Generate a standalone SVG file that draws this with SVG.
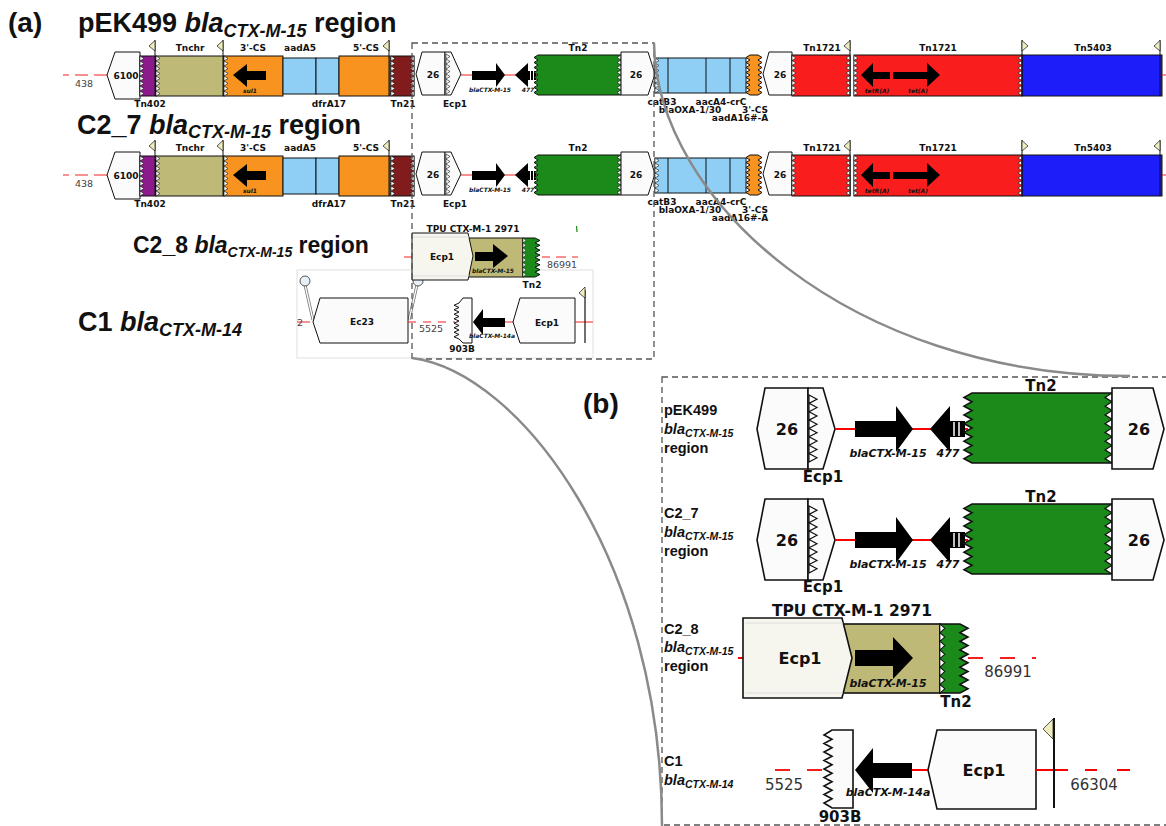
<svg xmlns="http://www.w3.org/2000/svg" xmlns:xlink="http://www.w3.org/1999/xlink" width="1166" height="826" viewBox="0 0 1166 826">
<style>
.k{stroke:#111;stroke-width:1}
.kb{stroke:#111;stroke-width:1.6}
.wh{fill:#fbfbfb}
.wz{fill:#fff;stroke:#111;stroke-width:0.6}
.wzb{fill:#fff;stroke:#111;stroke-width:1.2}
.lb{font-family:"DejaVu Sans",Verdana,sans-serif;font-weight:bold;font-size:9px;text-anchor:middle;fill:#111}
.gi{font-family:"DejaVu Sans",Verdana,sans-serif;font-weight:bold;font-style:italic;font-size:6px;text-anchor:middle;fill:#111}
.nm{font-family:"DejaVu Sans",Verdana,sans-serif;font-size:9.5px;text-anchor:middle;fill:#444}
.lbB{font-family:"DejaVu Sans",Verdana,sans-serif;font-weight:bold;font-size:15px;text-anchor:middle;fill:#111}
.big{font-size:16px}
.giB{font-family:"DejaVu Sans",Verdana,sans-serif;font-weight:bold;font-style:italic;font-size:11px;text-anchor:middle;fill:#111}
.nmB{font-family:"DejaVu Sans",Verdana,sans-serif;font-size:15px;text-anchor:middle;fill:#333}
.ttl{font-family:"Liberation Sans",Arial,sans-serif;font-weight:bold;font-size:27px;fill:#111}
.rl{font-family:"Liberation Sans",Arial,sans-serif;font-weight:bold;font-size:14.5px;fill:#111}
.it{font-style:italic}
.rline{stroke:#f42020;stroke-width:1;fill:none}
.rdash{stroke:#f42020;stroke-width:1;stroke-dasharray:13 6;fill:none}
.rlineB{stroke:#f00;stroke-width:2;fill:none}
.rdashB{stroke:#f42020;stroke-width:2;stroke-dasharray:15 17;fill:none}
.fl{stroke:#111;stroke-width:1}
.ft{fill:#efedbd;stroke:#111;stroke-width:0.7}
.olive{fill:#bfb978}
.orange{fill:#f7931e}
.lblue{fill:#8fcff5}
.green{fill:#1b8a1b}
.red{fill:#f91d1d}
.blue{fill:#1d1df9}
.curve{fill:none;stroke:#8a8a8a;stroke-width:2.5}
.dbox{fill:none;stroke:#555;stroke-width:1.3;stroke-dasharray:6 4}
</style>
<defs>
<path id="zz40" d="M0,0l4,2.5-4,2.5 4,2.5-4,2.5 4,2.5-4,2.5 4,2.5-4,2.5 4,2.5-4,2.5 4,2.5-4,2.5 4,2.5-4,2.5 4,2.5-4,2.5z"/>
<path id="zz35" d="M0,0l4,2.5-4,2.5 4,2.5-4,2.5 4,2.5-4,2.5 4,2.5-4,2.5 4,2.5-4,2.5 4,2.5-4,2.5 4,2.5-4,2.5z"/>
<path id="zzB" d="M0,0l8,4.375-8,4.375 8,4.375-8,4.375 8,4.375-8,4.375 8,4.375-8,4.375 8,4.375-8,4.375 8,4.375-8,4.375 8,4.375-8,4.375 8,4.375-8,4.375z"/>
<g id="flagL"><line x1="0" y1="0" x2="0" y2="56" class="fl"/><polygon points="-6,6 0,0.5 0,11" class="ft"/></g>
<g id="flagR"><line x1="0" y1="0" x2="0" y2="56" class="fl"/><polygon points="6,6 0,0.5 0,11" class="ft"/></g>
</defs>
<rect x="0" y="0" width="1166" height="826" fill="#fff"/>

<!-- panel labels and titles -->
<text x="8" y="32" font-family="Liberation Sans, Arial, sans-serif" font-weight="bold" font-size="28" fill="#111">(a)</text>
<text x="583" y="413" font-family="Liberation Sans, Arial, sans-serif" font-weight="bold" font-size="28" fill="#111">(b)</text>
<text class="ttl" x="78" y="32">pEK499 <tspan class="it">bla</tspan><tspan class="it" style="font-size:18px" dy="5">CTX-M-15</tspan><tspan dy="-5"> region</tspan></text>
<text class="ttl" x="77" y="134">C2_7 <tspan class="it">bla</tspan><tspan class="it" style="font-size:18px" dy="4">CTX-M-15</tspan><tspan dy="-4"> region</tspan></text>
<text class="ttl" x="133" y="253" style="font-size:23px">C2_8 <tspan class="it">bla</tspan><tspan class="it" style="font-size:14px" dy="4">CTX-M-15</tspan><tspan dy="-4"> region</tspan></text>
<text class="ttl" x="78" y="331">C1 <tspan class="it">bla</tspan><tspan class="it" style="font-size:18px" dy="5">CTX-M-14</tspan></text>

<!-- ROW 1 pEK499 -->
<g id="a-pEK499">
 <line class="rdash" x1="107" y1="75" x2="63" y2="75"/>
 <text class="nm" x="84" y="87">438</text>
 <g id="p1-6100"><polygon class="wh k" points="107,75 115,52 140,52 140,99 115,99"/><text class="lb" x="126" y="79">6100</text></g>
 <g id="p1-Tn402"><rect class="k" fill="#8b1a8b" x="140" y="56" width="16" height="40"/><use href="#zz40" class="wz" x="140" y="56"/><text class="lb" x="150" y="107">Tn402</text></g>
 <g id="p1-Tnchr"><rect class="k olive" x="156" y="56" width="68" height="40"/><use href="#zz40" class="wz" x="156" y="56"/><use href="#flagL" x="155" y="40"/><text class="lb" x="190" y="51">Tnchr</text></g>
 <g id="p1-3CS"><rect class="k orange" x="224" y="56" width="59" height="40"/><use href="#zz40" class="wz" x="224" y="56"/><use href="#flagL" x="223" y="40"/><polygon points="233,75 247,64 247,71 266,71 266,80 247,80 247,87" fill="#000"/><text class="gi" x="250" y="93">sul1</text><text class="lb" x="253" y="51">3'-CS</text></g>
 <g id="p1-aadA5"><rect class="k lblue" x="283" y="58" width="33" height="36"/><text class="lb" x="300" y="51">aadA5</text></g>
 <g id="p1-dfrA17"><rect class="k lblue" x="316" y="58" width="23" height="36"/><text class="lb" x="329" y="107">dfrA17</text></g>
 <g id="p1-5CS"><rect class="k orange" x="339" y="56" width="51" height="40"/><use href="#flagL" x="389" y="40"/><text class="lb" x="366" y="51">5'-CS</text></g>
 <g id="p1-Tn21"><rect class="k" fill="#821c1c" x="391" y="56" width="23" height="40"/><use href="#zz40" class="wz" x="391" y="56"/><use href="#zz40" class="wz" transform="translate(414,56) scale(-1,1)"/><text class="lb" x="403" y="107">Tn21</text></g>
 <g id="p1-26a"><polygon class="wh k" points="416,74 422,52 445,52 445,95 422,95"/><text class="lb" x="433" y="78">26</text></g>
 <g id="p1-Ecp1"><polygon class="wh k" points="445,52 451,52 461,74 451,95 445,95"/><use href="#zz40" class="wz" x="446" y="54"/><text class="lb" x="455" y="107">Ecp1</text></g>
 <line class="rline" x1="461" y1="75" x2="538" y2="75"/>
 <g id="p1-bla"><polygon points="472,71 496,71 496,63 505,75 496,87 496,80 472,80" fill="#000"/><text class="gi" x="490" y="92">blaCTX-M-15</text></g>
 <g id="p1-477"><polygon points="515,75 528,63 528,71 536,71 536,80 528,80 528,87" fill="#000"/><path d="M530.5,71V80M533.5,71V80" stroke="#fff" stroke-width="1"/><text class="gi" x="528" y="92">477</text></g>
 <g id="p1-Tn2"><path class="k green" d="M538,55H621V95H538l-4,-2.5 4,-2.5 -4,-2.5 4,-2.5 -4,-2.5 4,-2.5 -4,-2.5 4,-2.5 -4,-2.5 4,-2.5 -4,-2.5 4,-2.5 -4,-2.5 4,-2.5 -4,-2.5 4,-2.5z"/><use href="#zz40" class="wz" transform="translate(621,55) scale(-1,1)"/><text class="lb" x="578" y="51">Tn2</text></g>
 <g id="p1-26b"><polygon class="wh k" points="621,52 648,52 655,74 648,95 621,95"/><text class="lb" x="636" y="78">26</text></g>
 <g id="p1-cass"><rect class="k lblue" x="655" y="58" width="91" height="35"/><path class="k" d="M668,58V93M706,58V93M730,58V93"/><use href="#zz35" class="wz" x="655" y="58"/><text class="lb" x="662" y="105">catB3</text><text class="lb" x="690" y="113">blaOXA-1/30</text><text class="lb" x="721" y="105">aacA4-crC</text><text class="lb" x="740" y="121">aadA16#-A</text></g>
 <g id="p1-3CSb"><path class="k orange" d="M750,55H758l4,2.5-4,2.5 4,2.5-4,2.5 4,2.5-4,2.5 4,2.5-4,2.5 4,2.5-4,2.5 4,2.5-4,2.5 4,2.5-4,2.5 4,2.5-4,2.5H750l-4,-2.5 4,-2.5 -4,-2.5 4,-2.5 -4,-2.5 4,-2.5 -4,-2.5 4,-2.5 -4,-2.5 4,-2.5 -4,-2.5 4,-2.5 -4,-2.5 4,-2.5 -4,-2.5 4,-2.5z"/><text class="lb" x="755" y="113">3'-CS</text></g>
 <g id="p1-26c"><polygon class="wh k" points="763,74 769,52 792,52 792,95 769,95"/><text class="lb" x="780" y="78">26</text></g>
 <g id="p1-Tn1721a"><rect class="k red" x="792" y="55" width="58" height="41"/><use href="#zz40" class="wz" x="792" y="55.5"/><use href="#zz40" class="wz" transform="translate(850,55.5) scale(-1,1)"/><text class="lb" x="822" y="51">Tn1721</text></g>
 <g id="p1-Tn1721b"><rect class="k red" x="854" y="55" width="168" height="41"/><use href="#zz40" class="wz" x="854" y="55.5"/><use href="#zz40" class="wz" transform="translate(1022,55.5) scale(-1,1)"/><polygon points="861,75 873,63 873,72 890,72 890,79 873,79 873,87" fill="#000"/><polygon points="893,72 927,72 927,63 940,75 927,87 927,79 893,79" fill="#000"/><text class="gi" x="877" y="93">tetR(A)</text><text class="gi" x="918" y="93">tet(A)</text><text class="lb" x="938" y="51">Tn1721</text></g>
 <g id="p1-Tn5403"><rect class="k blue" x="1022" y="55" width="140" height="41"/><use href="#flagL" x="850" y="40"/><use href="#flagR" x="1022" y="40"/><use href="#flagL" x="1160" y="40"/><text class="lb" x="1093" y="51">Tn5403</text></g>
 <line class="rline" x1="1162" y1="75" x2="1166" y2="75"/>
</g>

<!-- ROW 2 C2_7 -->
<g id="a-C2_7" transform="translate(0,100)">
 <line class="rdash" x1="107" y1="75" x2="63" y2="75"/>
 <text class="nm" x="84" y="87">438</text>
 <g id="p2-6100"><polygon class="wh k" points="107,75 115,52 140,52 140,99 115,99"/><text class="lb" x="126" y="79">6100</text></g>
 <g id="p2-Tn402"><rect class="k" fill="#8b1a8b" x="140" y="56" width="16" height="40"/><use href="#zz40" class="wz" x="140" y="56"/><text class="lb" x="150" y="107">Tn402</text></g>
 <g id="p2-Tnchr"><rect class="k olive" x="156" y="56" width="68" height="40"/><use href="#zz40" class="wz" x="156" y="56"/><use href="#flagL" x="155" y="40"/><text class="lb" x="190" y="51">Tnchr</text></g>
 <g id="p2-3CS"><rect class="k orange" x="224" y="56" width="59" height="40"/><use href="#zz40" class="wz" x="224" y="56"/><use href="#flagL" x="223" y="40"/><polygon points="233,75 247,64 247,71 266,71 266,80 247,80 247,87" fill="#000"/><text class="gi" x="250" y="93">sul1</text><text class="lb" x="253" y="51">3'-CS</text></g>
 <g id="p2-aadA5"><rect class="k lblue" x="283" y="58" width="33" height="36"/><text class="lb" x="300" y="51">aadA5</text></g>
 <g id="p2-dfrA17"><rect class="k lblue" x="316" y="58" width="23" height="36"/><text class="lb" x="329" y="107">dfrA17</text></g>
 <g id="p2-5CS"><rect class="k orange" x="339" y="56" width="51" height="40"/><use href="#flagL" x="389" y="40"/><text class="lb" x="366" y="51">5'-CS</text></g>
 <g id="p2-Tn21"><rect class="k" fill="#821c1c" x="391" y="56" width="23" height="40"/><use href="#zz40" class="wz" x="391" y="56"/><use href="#zz40" class="wz" transform="translate(414,56) scale(-1,1)"/><text class="lb" x="403" y="107">Tn21</text></g>
 <g id="p2-26a"><polygon class="wh k" points="416,74 422,52 445,52 445,95 422,95"/><text class="lb" x="433" y="78">26</text></g>
 <g id="p2-Ecp1"><polygon class="wh k" points="445,52 451,52 461,74 451,95 445,95"/><use href="#zz40" class="wz" x="446" y="54"/><text class="lb" x="455" y="107">Ecp1</text></g>
 <line class="rline" x1="461" y1="75" x2="538" y2="75"/>
 <g id="p2-bla"><polygon points="472,71 496,71 496,63 505,75 496,87 496,80 472,80" fill="#000"/><text class="gi" x="490" y="92">blaCTX-M-15</text></g>
 <g id="p2-477"><polygon points="515,75 528,63 528,71 536,71 536,80 528,80 528,87" fill="#000"/><path d="M530.5,71V80M533.5,71V80" stroke="#fff" stroke-width="1"/><text class="gi" x="528" y="92">477</text></g>
 <g id="p2-Tn2"><path class="k green" d="M538,55H621V95H538l-4,-2.5 4,-2.5 -4,-2.5 4,-2.5 -4,-2.5 4,-2.5 -4,-2.5 4,-2.5 -4,-2.5 4,-2.5 -4,-2.5 4,-2.5 -4,-2.5 4,-2.5 -4,-2.5 4,-2.5z"/><use href="#zz40" class="wz" transform="translate(621,55) scale(-1,1)"/><text class="lb" x="578" y="51">Tn2</text></g>
 <g id="p2-26b"><polygon class="wh k" points="621,52 648,52 655,74 648,95 621,95"/><text class="lb" x="636" y="78">26</text></g>
 <g id="p2-cass"><rect class="k lblue" x="655" y="58" width="91" height="35"/><path class="k" d="M668,58V93M706,58V93M730,58V93"/><use href="#zz35" class="wz" x="655" y="58"/><text class="lb" x="662" y="105">catB3</text><text class="lb" x="690" y="113">blaOXA-1/30</text><text class="lb" x="721" y="105">aacA4-crC</text><text class="lb" x="740" y="121">aadA16#-A</text></g>
 <g id="p2-3CSb"><path class="k orange" d="M750,55H758l4,2.5-4,2.5 4,2.5-4,2.5 4,2.5-4,2.5 4,2.5-4,2.5 4,2.5-4,2.5 4,2.5-4,2.5 4,2.5-4,2.5 4,2.5-4,2.5H750l-4,-2.5 4,-2.5 -4,-2.5 4,-2.5 -4,-2.5 4,-2.5 -4,-2.5 4,-2.5 -4,-2.5 4,-2.5 -4,-2.5 4,-2.5 -4,-2.5 4,-2.5 -4,-2.5 4,-2.5z"/><text class="lb" x="755" y="113">3'-CS</text></g>
 <g id="p2-26c"><polygon class="wh k" points="763,74 769,52 792,52 792,95 769,95"/><text class="lb" x="780" y="78">26</text></g>
 <g id="p2-Tn1721a"><rect class="k red" x="792" y="55" width="58" height="41"/><use href="#zz40" class="wz" x="792" y="55.5"/><use href="#zz40" class="wz" transform="translate(850,55.5) scale(-1,1)"/><text class="lb" x="822" y="51">Tn1721</text></g>
 <g id="p2-Tn1721b"><rect class="k red" x="854" y="55" width="168" height="41"/><use href="#zz40" class="wz" x="854" y="55.5"/><use href="#zz40" class="wz" transform="translate(1022,55.5) scale(-1,1)"/><polygon points="861,75 873,63 873,72 890,72 890,79 873,79 873,87" fill="#000"/><polygon points="893,72 927,72 927,63 940,75 927,87 927,79 893,79" fill="#000"/><text class="gi" x="877" y="93">tetR(A)</text><text class="gi" x="918" y="93">tet(A)</text><text class="lb" x="938" y="51">Tn1721</text></g>
 <g id="p2-Tn5403"><rect class="k blue" x="1022" y="55" width="140" height="41"/><use href="#flagL" x="850" y="40"/><use href="#flagR" x="1022" y="40"/><use href="#flagL" x="1160" y="40"/><text class="lb" x="1093" y="51">Tn5403</text></g>
 <line class="rline" x1="1162" y1="75" x2="1166" y2="75"/>
</g>

<!-- ROW 4 C1 (panel a) -->
<g id="a-C1">
 <rect x="297" y="270" width="296" height="88" fill="#fff" stroke="#e0e0e0" stroke-width="1"/>
 <line class="rdash" x1="297" y1="322" x2="315" y2="322" stroke-dasharray="4 4"/>
 <text class="nm" x="300" y="326">2</text>
 <g id="c1-lollipop1"><line x1="305" y1="285" x2="313" y2="320" stroke="#777" stroke-width="3"/><line x1="305" y1="285" x2="313" y2="320" stroke="#fff" stroke-width="1.3"/><circle cx="305" cy="281" r="5" fill="#e9f1f8" stroke="#555" stroke-width="1"/></g>
 <g id="c1-lollipop2"><line x1="417" y1="285" x2="409" y2="320" stroke="#777" stroke-width="3"/><line x1="417" y1="285" x2="409" y2="320" stroke="#fff" stroke-width="1.3"/><circle cx="418" cy="281" r="5" fill="#e9f1f8" stroke="#555" stroke-width="1"/></g>
 <g id="c1-Ec23"><polygon class="wh k" points="313,322 320,298 408,298 408,343 320,343"/><text class="lb" x="362" y="325">Ec23</text></g>
 <line class="rline" x1="408" y1="322" x2="455" y2="322" stroke-dasharray="8 7"/>
 <text class="nm" x="431" y="332">5525</text>
 <g id="c1-903B"><polygon class="wh k" points="463,298 472,298 472,343 463,343 459,339 454,336.75 459,334.5 454,332.25 459,330 454,327.75 459,325.5 454,323.25 459,321 454,318.75 459,316.5 454,314.25 459,312 454,309.75 459,307.5 454,305.25 459,303"/><text class="lb" x="462" y="352">903B</text></g>
 <g id="c1-bla"><polygon points="473,322 483,309 483,318 505,318 505,327 483,327 483,335" fill="#000"/><text class="gi" x="492" y="338">blaCTX-M-14a</text></g>
 <line class="rline" x1="505" y1="322" x2="514" y2="322"/>
 <g id="c1-Ecp1"><polygon class="wh k" points="513,322 520,298 575,298 575,343 520,343"/><text class="lb" x="547" y="326">Ecp1</text></g>
 <line class="rline" x1="575" y1="322" x2="593" y2="322"/>
 <g id="c1-flag"><line x1="585" y1="290" x2="585" y2="343" stroke="#111" stroke-width="1.2"/><polygon points="579,293 585,287 585,298" class="ft"/></g>
</g>

<!-- ROW 3 C2_8 (panel a) -->
<g id="a-C2_8">
 <line class="rline" x1="404" y1="257" x2="412" y2="257"/>
 <g id="c8-olive"><rect class="k olive" x="465" y="238" width="58" height="39"/><polygon points="475,252 493,252 493,244 508,256 493,268 493,261 475,261" fill="#000"/><text class="gi" x="493" y="273">blaCTX-M-15</text></g>
 <g id="c8-Ecp1"><polygon class="k" fill="#f6f5ee" points="412,233 468,233 473,256 468,280 412,280"/><path d="M413,237H469M413,276H469" stroke="#ddd" stroke-width="1"/><text class="lb" x="442" y="260">Ecp1</text></g>
 <g id="c8-Tn2"><path class="k green" d="M523,238H535l5,2.4375-5,2.4375 5,2.4375-5,2.4375 5,2.4375-5,2.4375 5,2.4375-5,2.4375 5,2.4375-5,2.4375 5,2.4375-5,2.4375 5,2.4375-5,2.4375 5,2.4375-5,2.4375H523z"/><use href="#zz40" class="wz" transform="translate(523,238) scale(0.75,0.975)"/><text class="lb" x="532" y="288">Tn2</text></g>
 <line class="rline" x1="542" y1="257" x2="578" y2="257" stroke-dasharray="8 6 10 6"/>
 <text class="nm" x="562" y="268">86991</text>
 <text class="lb" x="473" y="232">TPU CTX-M-1 2971</text>
 <path d="M576.5,226L577,232" stroke="#1b8a1b" stroke-width="1.2"/>
</g>

<!-- PANEL B -->
<g id="b-pEK499">
 <text class="rl" x="664" y="415">pEK499</text>
 <text class="rl" x="664" y="434"><tspan class="it">bla</tspan><tspan class="it" style="font-size:10.5px" dy="3">CTX-M-15</tspan></text>
 <text class="rl" x="664" y="453">region</text>
 <g id="b1-26a"><polygon class="wh kb" points="765,388 808,388 808,469 765,469 757,429"/><text class="lbB big" x="787" y="435">26</text></g>
 <g id="b1-Ecp1"><polygon class="wh kb" points="808,388 823,388 835,429 823,469 808,469"/><use href="#zzB" class="wzb" transform="translate(809,395) scale(1,0.957)"/><text class="lbB" x="823" y="482">Ecp1</text></g>
 <line class="rlineB" x1="835" y1="429" x2="968" y2="429"/>
 <g id="b1-bla"><polygon points="855,421 896,421 896,406 913,429 896,452 896,437 855,437" fill="#000"/><text class="giB" x="888" y="457">blaCTX-M-15</text></g>
 <g id="b1-477"><polygon points="930,429 950,406 950,421 965,421 965,437 950,437 950,452" fill="#000"/><path d="M954,422V436M959,422V436" stroke="#fff" stroke-width="1.5"/><text class="giB" x="948" y="457">477</text></g>
 <g id="b1-Tn2"><path class="kb green" d="M972,393H1112V463H972l-8,-4.375 8,-4.375 -8,-4.375 8,-4.375 -8,-4.375 8,-4.375 -8,-4.375 8,-4.375 -8,-4.375 8,-4.375 -8,-4.375 8,-4.375 -8,-4.375 8,-4.375 -8,-4.375 8,-4.375z"/><use href="#zzB" class="wzb" transform="translate(1112,393) scale(-0.875,1)"/><text class="lbB" x="1041" y="391">Tn2</text></g>
 <g id="b1-26b"><polygon class="wh kb" points="1112,388 1153,388 1164,429 1153,469 1112,469"/><text class="lbB big" x="1139" y="435">26</text></g>
</g>

<g id="b-C2_7">
 <text class="rl" x="664" y="518">C2_7</text>
 <text class="rl" x="664" y="537"><tspan class="it">bla</tspan><tspan class="it" style="font-size:10.5px" dy="3">CTX-M-15</tspan></text>
 <text class="rl" x="664" y="556">region</text>
 <g transform="translate(0,111)">
 <g id="b2-26a"><polygon class="wh kb" points="765,388 808,388 808,469 765,469 757,429"/><text class="lbB big" x="787" y="435">26</text></g>
 <g id="b2-Ecp1"><polygon class="wh kb" points="808,388 823,388 835,429 823,469 808,469"/><use href="#zzB" class="wzb" transform="translate(809,395) scale(1,0.957)"/><text class="lbB" x="823" y="481">Ecp1</text></g>
 <line class="rlineB" x1="835" y1="429" x2="968" y2="429"/>
 <g id="b2-bla"><polygon points="855,421 896,421 896,406 913,429 896,452 896,437 855,437" fill="#000"/><text class="giB" x="888" y="457">blaCTX-M-15</text></g>
 <g id="b2-477"><polygon points="930,429 950,406 950,421 965,421 965,437 950,437 950,452" fill="#000"/><path d="M954,422V436M959,422V436" stroke="#fff" stroke-width="1.5"/><text class="giB" x="948" y="457">477</text></g>
 <g id="b2-Tn2"><path class="kb green" d="M972,393H1112V463H972l-8,-4.375 8,-4.375 -8,-4.375 8,-4.375 -8,-4.375 8,-4.375 -8,-4.375 8,-4.375 -8,-4.375 8,-4.375 -8,-4.375 8,-4.375 -8,-4.375 8,-4.375 -8,-4.375 8,-4.375z"/><use href="#zzB" class="wzb" transform="translate(1112,393) scale(-0.875,1)"/><text class="lbB" x="1041" y="391">Tn2</text></g>
 <g id="b2-26b"><polygon class="wh kb" points="1112,388 1153,388 1164,429 1153,469 1112,469"/><text class="lbB big" x="1139" y="435">26</text></g>
 </g>
</g>

<g id="b-C2_8">
 <text class="rl" x="664" y="634">C2_8</text>
 <text class="rl" x="664" y="652"><tspan class="it">bla</tspan><tspan class="it" style="font-size:10.5px" dy="3">CTX-M-15</tspan></text>
 <text class="rl" x="664" y="671">region</text>
 <line class="rlineB" x1="738" y1="658" x2="744" y2="658"/>
 <g id="b3-olive"><rect class="kb olive" x="842" y="624" width="98" height="69"/><polygon points="855,650 893,650 893,637 913,658 893,679 893,666 855,666" fill="#000"/><text class="giB" x="888" y="687">blaCTX-M-15</text></g>
 <g id="b3-Ecp1"><polygon class="kb" fill="#f6f5ee" points="743,618 842,618 852,658 842,698 743,698"/><path d="M745,623H843M745,693H843" stroke="#ddd" stroke-width="1.2"/><text class="lbB big" x="800" y="664">Ecp1</text></g>
 <g id="b3-Tn2"><path class="kb green" d="M940,624H960l8,4.3125-8,4.3125 8,4.3125-8,4.3125 8,4.3125-8,4.3125 8,4.3125-8,4.3125 8,4.3125-8,4.3125 8,4.3125-8,4.3125 8,4.3125-8,4.3125 8,4.3125-8,4.3125H940z"/><use href="#zzB" class="wzb" transform="translate(940,624) scale(0.6,0.986)"/><text class="lbB" x="956" y="707">Tn2</text></g>
 <line class="rdashB" x1="968" y1="658" x2="1036" y2="658"/>
 <text class="nmB" x="1008" y="677">86991</text>
 <text class="lbB" x="852" y="616" style="font-size:15.5px">TPU CTX-M-1 2971</text>
</g>

<g id="b-C1">
 <text class="rl" x="664" y="766">C1</text>
 <text class="rl" x="664" y="785"><tspan class="it">bla</tspan><tspan class="it" style="font-size:10.5px" dy="3">CTX-M-14</tspan></text>
 <line class="rdashB" x1="775" y1="770" x2="824" y2="770"/>
 <text class="nmB" x="784" y="790">5525</text>
 <g id="b4-903B"><polygon class="wh kb" points="832,730 853,730 853,808 832,808 824,803 832,798.75 824,794.5 832,790.25 824,786 832,781.75 824,777.5 832,773.25 824,769 832,764.75 824,760.5 832,756.25 824,752 832,747.75 824,743.5 832,739.25 824,735"/><text class="lbB" x="840" y="822">903B</text></g>
 <g id="b4-bla"><polygon points="855,770 873,748 873,763 912,763 912,778 873,778 873,793" fill="#000"/><text class="giB" x="888" y="796">blaCTX-M-14a</text></g>
 <line class="rlineB" x1="912" y1="770" x2="930" y2="770"/>
 <g id="b4-Ecp1"><polygon class="wh kb" points="928,770 937,730 1036,730 1036,809 937,809"/><text class="lbB big" x="984" y="776">Ecp1</text></g>
 <line class="rlineB" x1="1036" y1="770" x2="1068" y2="770"/>
 <line class="rlineB" x1="1085" y1="770" x2="1097" y2="770"/>
 <line class="rlineB" x1="1117" y1="770" x2="1130" y2="770"/>
 <g id="b4-flag"><line x1="1054" y1="718" x2="1054" y2="808" stroke="#111" stroke-width="2"/><polygon points="1043,729 1053,719 1053,739" class="ft" stroke-width="1.2"/></g>
 <text class="nmB" x="1094" y="790">66304</text>
</g>

<!-- connectors: zoom boxes and curves -->
<g id="connectors">
 <rect class="dbox" x="412" y="43" width="242" height="316"/>
 <rect class="dbox" x="662" y="377" width="520" height="448"/>
 <path class="curve" d="M654,43C656,200 850,376 1130,376"/>
 <path class="curve" d="M412,358C520,372 662,560 662,826"/>
</g>
</svg>
